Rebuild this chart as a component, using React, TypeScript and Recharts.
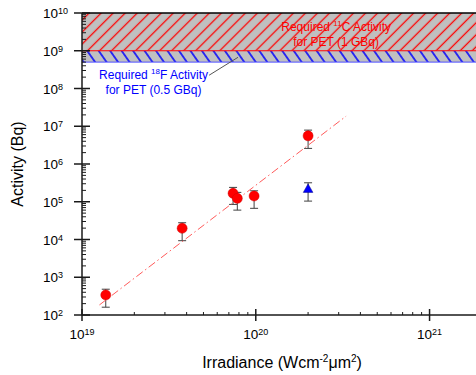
import React from 'react'
import {
  ComposedChart, Scatter, ErrorBar, XAxis, YAxis,
  ReferenceArea, ReferenceLine, ReferenceDot,
} from 'recharts'

// measured points (red circles)
const irradiance = [1.37e19, 3.77e19, 7.4e19, 7.83e19, 9.78e19, 2.0e20]
const activity = [340, 1.98e4, 1.67e5, 1.23e5, 1.42e5, 5.57e6]
const errDown = [179, 1.05e4, 8.2e4, 6.3e4, 7.5e4, 2.98e6]
const errUp = [142, 8.0e3, 7.3e4, 5.4e4, 5.3e4, 2.33e6]

// blue triangle
const triIrradiance = [2.0e20]
const triActivity = [2.26e5]
const triErrDown = [1.22e5]
const triErrUp = [9.2e4]

// fit line end points
const fitIrradiance = [1.26e19, 3.31e20]
const fitActivity = [185, 1.85e7]

// required activity bands
const c11Band = [1e9, 1e10]
const f18Band = [5e8, 1e9]

const xMajor = [1e19, 1e20, 1e21]
const yMajor = [1e2, 1e3, 1e4, 1e5, 1e6, 1e7, 1e8, 1e9, 1e10]
const minorSteps = [2, 3, 4, 5, 6, 7, 8, 9]
const xDomain = [1e19, 1.9e21]
const yDomain = [1e2, 1e10]

const FONT = 'Liberation Sans, Arial, Helvetica, sans-serif'
const AXIS = '#1a1a1a'

const xTicks = xMajor
  .flatMap(m => [m, ...minorSteps.map(s => s * m)])
  .filter(v => v <= xDomain[1])
const yTicks = yMajor
  .flatMap(m => [m, ...minorSteps.map(s => s * m)])
  .filter(v => v <= yDomain[1])

const isMajor = (v: number) => {
  const lg = Math.log10(v)
  return Math.abs(lg - Math.round(lg)) < 1e-6
}

const points = irradiance.map((x, i) => ({ x, y: activity[i], err: [errDown[i], errUp[i]] }))
const triPoints = triIrradiance.map((x, i) => ({ x, y: triActivity[i], err: [triErrDown[i], triErrUp[i]] }))
const fitPoints = fitIrradiance.map((x, i) => ({ x, y: fitActivity[i] }))

function XTick(props: any) {
  const { x, y, payload } = props
  const v = payload.value
  if (!isMajor(v)) {
    return <line x1={x} x2={x} y1={y} y2={y - 3} stroke={AXIS} strokeWidth={1} />
  }
  return (
    <g>
      <line x1={x} x2={x} y1={y - 6} y2={y + 6} stroke={AXIS} strokeWidth={1.5} />
      <text x={x} y={y + 24} textAnchor="middle" fontSize={13.5} fill="#000" fontFamily={FONT}>
        10<tspan dy={-4.5} fontSize={9}>{Math.round(Math.log10(v))}</tspan>
      </text>
    </g>
  )
}

function YTick(props: any) {
  const { x, y, payload } = props
  const v = payload.value
  if (!isMajor(v)) {
    return <line x1={x} x2={x + 4} y1={y} y2={y} stroke={AXIS} strokeWidth={1} />
  }
  return (
    <g>
      <line x1={x - 8} x2={x + 8} y1={y} y2={y} stroke={AXIS} strokeWidth={1.5} />
      <text x={x - 39} y={y + 5} textAnchor="start" fontSize={13.5} fill="#000" fontFamily={FONT}>
        10<tspan dy={-4} fontSize={9}>{Math.round(Math.log10(v))}</tspan>
      </text>
    </g>
  )
}

function RightTick(props: any) {
  const { x, y } = props
  return <line x1={x - 4} x2={x} y1={y} y2={y} stroke={AXIS} strokeWidth={1.5} />
}

function YLabel(props: any) {
  const { viewBox } = props
  const cx = viewBox.x + 17
  const cy = viewBox.y + viewBox.height / 2
  return (
    <text x={cx} y={cy} transform={`rotate(-90 ${cx} ${cy})`} textAnchor="middle"
      dominantBaseline="central" fontSize={16} fontFamily={FONT} fill="#000">
      Activity (Bq)
    </text>
  )
}

function XLabel(props: any) {
  const { viewBox } = props
  return (
    <text x={viewBox.x + viewBox.width / 2 + 2} y={viewBox.y + 53} textAnchor="middle"
      fontSize={16} fontFamily={FONT} fill="#000">
      Irradiance (Wcm<tspan dy={-6} fontSize={10}>-2</tspan>
      <tspan dy={6}>μm</tspan><tspan dy={-6} fontSize={10}>2</tspan><tspan dy={6}>)</tspan>
    </text>
  )
}

function TwoLines({ cx, cy, color, sup, before, after, second }: any) {
  return (
    <text textAnchor="middle" fontSize={12} fontFamily={FONT} fill={color}>
      <tspan x={cx} y={cy - 3}>
        {before}<tspan dy={-5} fontSize={8}>{sup}</tspan><tspan dy={5}>{after}</tspan>
      </tspan>
      <tspan x={cx} y={cy + 12}>{second}</tspan>
    </text>
  )
}

const circle = (p: any) => <circle cx={p.cx} cy={p.cy} r={5} fill="#ff0000" stroke="#d00000" strokeWidth={0.5} />
const triangle = (p: any) => (
  <polygon
    points={`${p.cx},${p.cy - 4.5} ${p.cx + 4.8},${p.cy + 4} ${p.cx - 4.8},${p.cy + 4}`}
    fill="#0000ff" stroke="#000080" strokeWidth={0.5}
  />
)

export default function App() {
  return (
    <div style={{ position: 'absolute', left: 0, top: 0, width: 476, height: 375, overflow: 'hidden', background: '#fff' }}>
      <svg width={0} height={0} style={{ position: 'absolute' }}>
        <defs>
          <pattern id="hatchRed" patternUnits="userSpaceOnUse" width={8.5} height={8.5} patternTransform="rotate(45)">
            <rect width={8.5} height={8.5} fill="#c0c0c0" />
            <line x1={4.25} y1={0} x2={4.25} y2={8.5} stroke="#ff0000" strokeWidth={1.3} />
          </pattern>
          <pattern id="hatchBlue" patternUnits="userSpaceOnUse" width={9.4} height={9.4} patternTransform="rotate(-35)">
            <rect width={9.4} height={9.4} fill="#c0c0c0" />
            <line x1={4.7} y1={0} x2={4.7} y2={9.4} stroke="#0000ff" strokeWidth={1.5} />
          </pattern>
        </defs>
      </svg>
      <ComposedChart width={490} height={375} margin={{ top: 13, right: 12, bottom: 0, left: 0 }}>
        <XAxis
          dataKey="x" type="number" scale="log" domain={xDomain} allowDataOverflow
          ticks={xTicks} interval={0} tick={<XTick />} tickLine={false} tickSize={0} tickMargin={0}
          axisLine={{ stroke: AXIS, strokeWidth: 1.5 }} height={60} label={<XLabel />}
        />
        <YAxis
          dataKey="y" type="number" scale="log" domain={yDomain} allowDataOverflow
          ticks={yTicks} interval={0} tick={<YTick />} tickLine={false} tickSize={0} tickMargin={0}
          axisLine={{ stroke: AXIS, strokeWidth: 1.5 }} width={82} label={<YLabel />}
        />
        <YAxis
          yAxisId="right" orientation="right" type="number" scale="log" domain={yDomain} allowDataOverflow
          ticks={yMajor} interval={0} tick={<RightTick />} tickLine={false} tickSize={0} tickMargin={0}
          axisLine={false} width={0}
        />

        <ReferenceArea y1={c11Band[0]} y2={c11Band[1]} fill="url(#hatchRed)" fillOpacity={1} stroke="none" />
        <ReferenceArea y1={f18Band[0]} y2={f18Band[1]} fill="url(#hatchBlue)" fillOpacity={1} stroke="none" />
        <ReferenceLine y={c11Band[1]} stroke="#000" strokeWidth={1.5} />
        <ReferenceLine y={c11Band[0]} stroke="#ff0000" strokeWidth={1} />
        <ReferenceLine y={f18Band[0]} stroke="#4d4dff" strokeWidth={1} />
        <ReferenceLine
          segment={[{ x: 5.39e19, y: 2.25e8 }, { x: 7.9e19, y: 6.7e8 }]}
          stroke="#555" strokeWidth={1}
        />
        <ReferenceDot
          x={2.9e20} y={2.7e9} r={0}
          shape={(p: any) => (
            <TwoLines cx={p.cx} cy={p.cy} color="#ff0000" before="Required " sup="11" after="C Activity" second="for PET (1 GBq)" />
          )}
        />
        <ReferenceDot
          x={2.58e19} y={1.47e8} r={0}
          shape={(p: any) => (
            <TwoLines cx={p.cx} cy={p.cy} color="#0000ff" before="Required " sup="18" after="F Activity" second="for PET (0.5 GBq)" />
          )}
        />

        <Scatter
          data={fitPoints} isAnimationActive={false} shape={() => <g />}
          line={{ stroke: '#ff5a5a', strokeWidth: 1, strokeDasharray: '8 3 1.5 3' }}
        />
        <Scatter data={points} shape={circle} isAnimationActive={false}>
          <ErrorBar dataKey="err" direction="y" width={4} stroke="#404040" strokeWidth={1} />
        </Scatter>
        <Scatter data={triPoints} shape={triangle} isAnimationActive={false}>
          <ErrorBar dataKey="err" direction="y" width={4} stroke="#404040" strokeWidth={1} />
        </Scatter>
      </ComposedChart>
    </div>
  )
}
